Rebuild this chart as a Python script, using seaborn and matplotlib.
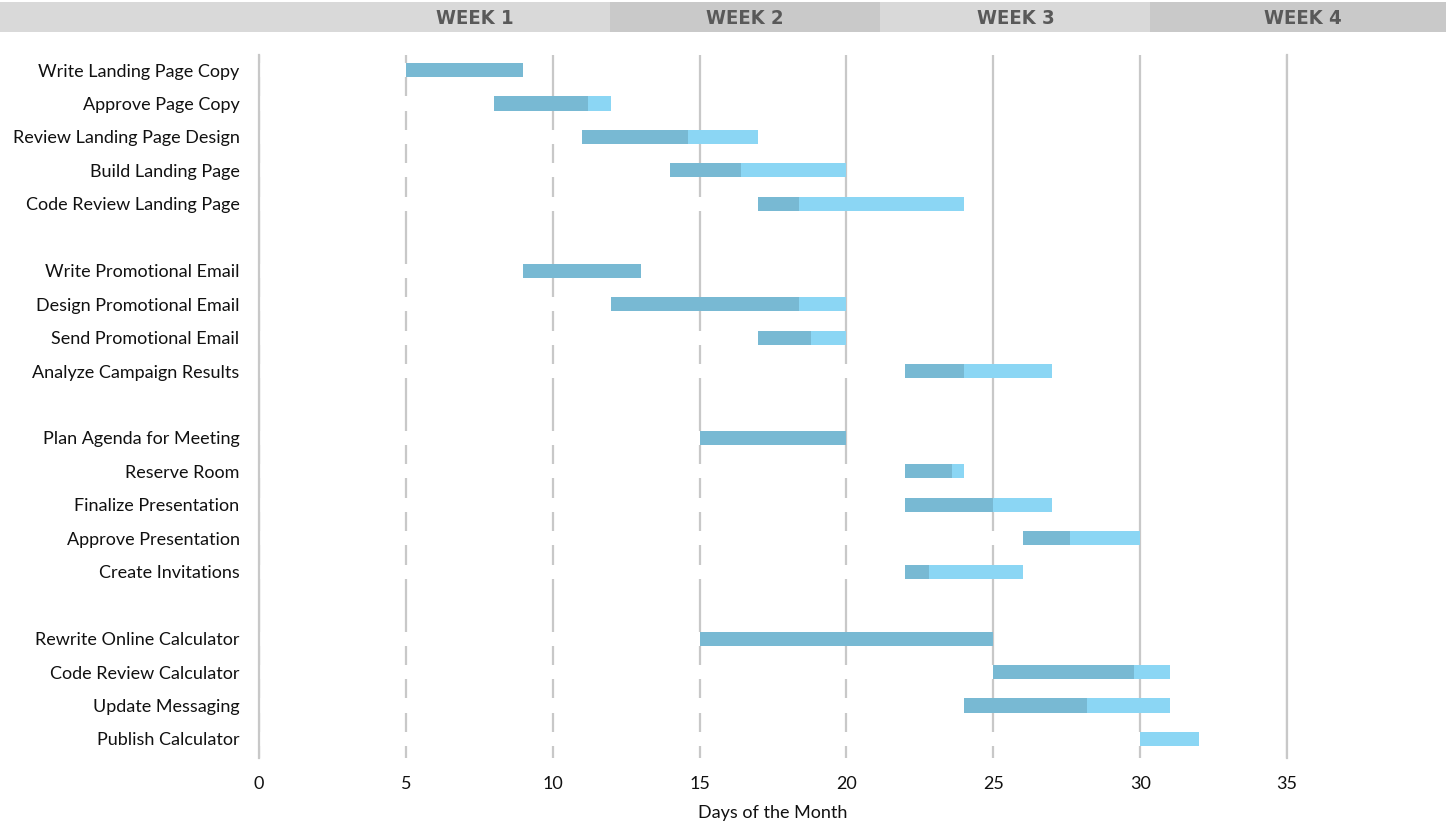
import pandas as pd
import matplotlib
matplotlib.use('Agg')
import matplotlib.pyplot as plt
import seaborn as sns

# task groups (a blank row is left between groups)
groups = [
    ['Write Landing Page Copy', 'Approve Page Copy', 'Review Landing Page Design',
     'Build Landing Page', 'Code Review Landing Page'],
    ['Write Promotional Email', 'Design Promotional Email', 'Send Promotional Email',
     'Analyze Campaign Results'],
    ['Plan Agenda for Meeting', 'Reserve Room', 'Finalize Presentation',
     'Approve Presentation', 'Create Invitations'],
    ['Rewrite Online Calculator', 'Code Review Calculator', 'Update Messaging',
     'Publish Calculator'],
]
start_day = [5, 8, 11, 14, 17, 9, 12, 17, 22, 15, 22, 22, 26, 22, 15, 25, 24, 30]
duration = [4, 4, 6, 6, 7, 4, 8, 3, 5, 5, 2, 5, 4, 4, 10, 6, 7, 2]
pct_complete = [100, 80, 60, 40, 20, 100, 80, 60, 40, 100, 80, 60, 40, 20, 100, 80, 60, 0]
weeks = ['WEEK 1', 'WEEK 2', 'WEEK 3', 'WEEK 4']
x_ticks = [0, 5, 10, 15, 20, 25, 30, 35]

DONE = '#78b9d3'
TODO = '#8bd6f4'
GRID = '#c8c8c8'

tasks, rows = [], []
r = 0
for g in groups:
    for t in g:
        tasks.append(t)
        rows.append(r)
        r += 1
    r += 1

df = pd.DataFrame({'task': tasks, 'row': rows, 'start': start_day,
                   'dur': duration, 'pct': pct_complete})
df['end'] = df['start'] + df['dur']
df['done'] = df['start'] + df['dur'] * df['pct'] / 100

sns.set_theme(style='white')
plt.rcParams['font.family'] = ['Lato', 'DejaVu Sans']

W, H = 1446, 836
fig = plt.figure(figsize=(W / 100, H / 100), dpi=100)
ax = fig.add_axes([259 / W, 1 - 758 / H, (1287 - 259) / W, (758 - 55) / H])

# stacked look: full length, then completed part, then white "start" part on top
kw = dict(y='row', orient='h', native_scale=True, width=0.42, saturation=1,
          errorbar=None, linewidth=0, ax=ax, zorder=2)
sns.barplot(data=df, x='end', color=TODO, **kw)
sns.barplot(data=df, x='done', color=DONE, **kw)
sns.barplot(data=df, x='start', color='white', **kw)

ax.set_xlim(0, 35)
ax.set_ylim(20.57, -0.45)
ax.set_xticks(x_ticks)
ax.set_yticks(df['row'], df['task'])
ax.grid(axis='x', color=GRID, lw=1.6)
ax.grid(axis='y', visible=False)
ax.set_axisbelow(True)
for s in ['top', 'bottom']:
    ax.spines[s].set_visible(False)
for s in ['left', 'right']:
    ax.spines[s].set_color(GRID)
    ax.spines[s].set_linewidth(1.6)
    ax.spines[s].set_zorder(3)
ax.tick_params(axis='y', length=0, pad=14, labelsize=13, labelcolor='#111111')
ax.tick_params(axis='x', length=0, pad=13, labelsize=13, labelcolor='#111111')
ax.set_xlabel('')
ax.set_ylabel('')
fig.text(773 / W, 1 - 813 / H, 'Days of the Month', ha='center', va='center',
         fontsize=13, color='#111111')

# week header band across the top
hdr = fig.add_axes([0, 1 - 32 / H, 1, 30 / H])
hdr.set_xlim(0, W)
hdr.set_ylim(0, 1)
hdr.axis('off')
week_edges = [0, 610, 880, 1150, W]
week_text_x = [475, 745, 1016, 1303]
for i, wk in enumerate(weeks):
    hdr.axvspan(week_edges[i], week_edges[i + 1], color=['#d9d9d9', '#c9c9c9'][i % 2], lw=0)
    hdr.text(week_text_x[i], 0.45, wk, ha='center', va='center', fontsize=14.5,
             fontweight='bold', fontstretch='condensed', color='#595959',
             family='DejaVu Sans')

fig.savefig('out.png', dpi=100)
